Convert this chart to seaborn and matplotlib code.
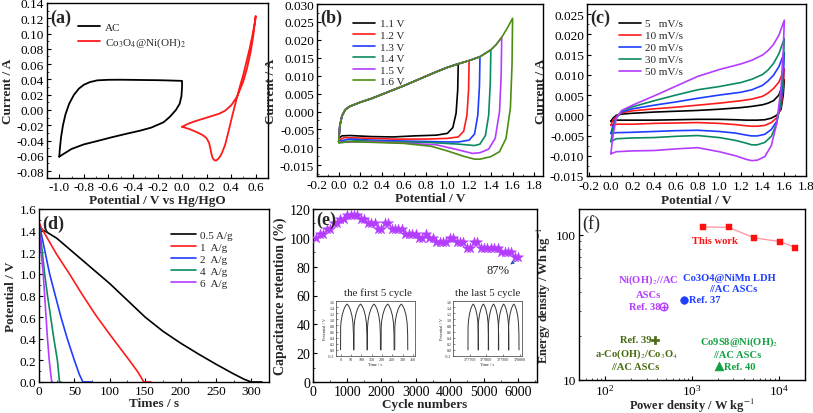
import numpy as np
import pandas as pd
import matplotlib
matplotlib.use("Agg")
import matplotlib.pyplot as plt
import seaborn as sns
from matplotlib.ticker import MultipleLocator, AutoMinorLocator, FormatStrFormatter, LogLocator, NullFormatter

# ---------------- data ----------------
# (a) three-electrode CVs
ac_v = [-1.0, -0.995, -0.985, -0.97, -0.95, -0.92, -0.88, -0.84, -0.8, -0.75, -0.69, -0.6, -0.5, -0.4, -0.3, -0.2, -0.1, -0.02, 0.0,
        0.0, -0.005, -0.02, -0.05, -0.1, -0.15, -0.25, -0.34, -0.45, -0.58, -0.7, -0.8, -0.9, -1.0]
ac_i = [-0.061, -0.05, -0.035, -0.02, -0.006, 0.008, 0.02, 0.028, 0.033, 0.0365, 0.0388, 0.0395, 0.0396, 0.0394, 0.0392, 0.039, 0.0386, 0.0382, 0.038,
        0.03, 0.018, 0.008, 0.0, -0.009, -0.016, -0.023, -0.027, -0.031, -0.036, -0.041, -0.045, -0.051, -0.061]
co_v = [0.0, 0.05, 0.1, 0.2, 0.3, 0.35, 0.4, 0.45, 0.5, 0.53, 0.56, 0.58, 0.6,
        0.59, 0.57, 0.55, 0.52, 0.5, 0.47, 0.44, 0.41, 0.38, 0.35, 0.32, 0.3, 0.28, 0.265, 0.25, 0.24, 0.23, 0.22, 0.2, 0.17, 0.12, 0.06, 0.0]
co_i = [-0.022, -0.018, -0.015, -0.01, -0.005, -0.001, 0.006, 0.018, 0.038, 0.055, 0.077, 0.097, 0.123,
        0.112, 0.095, 0.08, 0.06, 0.047, 0.03, 0.012, -0.007, -0.027, -0.046, -0.058, -0.063, -0.066, -0.066, -0.063, -0.058, -0.05, -0.043, -0.037, -0.033, -0.029, -0.025, -0.022]

# (b) CVs at different voltage windows
b_labels = ["1.1 V", "1.2 V", "1.3 V", "1.4 V", "1.5 V", "1.6 V"]
b_up_v = [0.0, 0.01, 0.03, 0.06, 0.1, 0.15, 0.2, 0.3, 0.4, 0.5, 0.6, 0.7, 0.8, 0.9, 1.0, 1.1, 1.2, 1.3, 1.4, 1.45, 1.5, 1.55, 1.6]
b_up_i = [-0.0085, -0.004, -0.0012, 0.0005, 0.0014, 0.002, 0.0026, 0.0036, 0.0048, 0.006, 0.0072, 0.0085, 0.0098, 0.0111, 0.0123, 0.0133, 0.0142, 0.0153, 0.0172, 0.0187, 0.0207, 0.0232, 0.026]
b_dn_v = [
    [1.1, 1.095, 1.08, 1.05, 1.0, 0.9, 0.7, 0.5, 0.3, 0.1, 0.03, 0.0],
    [1.2, 1.195, 1.18, 1.15, 1.1, 1.0, 0.8, 0.5, 0.2, 0.05, 0.0],
    [1.3, 1.295, 1.28, 1.25, 1.2, 1.1, 1.0, 0.7, 0.4, 0.1, 0.0],
    [1.4, 1.395, 1.38, 1.35, 1.3, 1.25, 1.1, 0.8, 0.5, 0.2, 0.0],
    [1.5, 1.495, 1.48, 1.44, 1.38, 1.3, 1.23, 1.1, 0.9, 0.6, 0.3, 0.0],
    [1.6, 1.595, 1.58, 1.54, 1.48, 1.4, 1.3, 1.25, 1.15, 1.0, 0.85, 0.6, 0.3, 0.1, 0.0],
]
b_dn_i = [
    [0.0133, 0.006, -0.0005, -0.0045, -0.0061, -0.0066, -0.0068, -0.0071, -0.0070, -0.0067, -0.0068, -0.0075],
    [0.0142, 0.006, -0.001, -0.0055, -0.0071, -0.0075, -0.0077, -0.0077, -0.0074, -0.0073, -0.0080],
    [0.0153, 0.007, -0.001, -0.0063, -0.0080, -0.0085, -0.0085, -0.0083, -0.0081, -0.0077, -0.0083],
    [0.0172, 0.008, -0.001, -0.0067, -0.0091, -0.0095, -0.0091, -0.0086, -0.0085, -0.0081, -0.0085],
    [0.0207, 0.010, 0.0, -0.0075, -0.0105, -0.0115, -0.0117, -0.0107, -0.0093, -0.0088, -0.0084, -0.0086],
    [0.026, 0.013, 0.001, -0.0075, -0.0112, -0.0126, -0.0133, -0.0133, -0.0125, -0.011, -0.0097, -0.0089, -0.0086, -0.0084, -0.0088],
]
b_colors = ["#000000", "#ff1a1a", "#1f3dff", "#0a8a62", "#b43cff", "#4d8c12"]

# (c) CVs at different scan rates
c_labels = ["5   mV/s", "10 mV/s", "20 mV/s", "30 mV/s", "50 mV/s"]
c_up_v = [0.0, 0.02, 0.05, 0.1, 0.2, 0.4, 0.6, 0.8, 1.0, 1.2, 1.3, 1.4, 1.45, 1.5, 1.55, 1.6]
c_up_i = [
    [-0.0015, -0.0007, 0.0, 0.0003, 0.0005, 0.0008, 0.001, 0.0012, 0.0015, 0.0019, 0.0022, 0.0026, 0.003, 0.0036, 0.005, 0.0088],
    [-0.0025, -0.0012, -0.0003, 0.0006, 0.0011, 0.0016, 0.002, 0.0025, 0.003, 0.0036, 0.004, 0.0047, 0.0055, 0.0066, 0.0082, 0.0115],
    [-0.0045, -0.0025, -0.0005, 0.0008, 0.0016, 0.0025, 0.0033, 0.0042, 0.005, 0.0057, 0.0063, 0.0074, 0.0085, 0.0099, 0.012, 0.0155],
    [-0.0065, -0.0035, -0.0008, 0.0011, 0.0021, 0.0036, 0.005, 0.0063, 0.0071, 0.0081, 0.0089, 0.0101, 0.0112, 0.0128, 0.0152, 0.019],
    [-0.0095, -0.005, -0.0007, 0.0012, 0.0025, 0.0048, 0.0072, 0.0096, 0.0113, 0.0127, 0.0136, 0.0149, 0.016, 0.0175, 0.0198, 0.0235],
]
c_dn_v = [1.6, 1.59, 1.57, 1.53, 1.48, 1.42, 1.35, 1.3, 1.25, 1.15, 1.0, 0.8, 0.6, 0.4, 0.2, 0.05, 0.0]
c_dn_i = [
    [0.0088, 0.005, 0.0015, 0.0, -0.0007, -0.0011, -0.0012, -0.0012, -0.0012, -0.0011, -0.001, -0.001, -0.0011, -0.0012, -0.0012, -0.0012, -0.0015],
    [0.0115, 0.007, 0.002, -0.0006, -0.0018, -0.0025, -0.0027, -0.0027, -0.0026, -0.0023, -0.002, -0.0018, -0.0019, -0.002, -0.0022, -0.0022, -0.0025],
    [0.0155, 0.009, 0.003, -0.0015, -0.0035, -0.0047, -0.0051, -0.0051, -0.0049, -0.0044, -0.004, -0.0037, -0.0038, -0.004, -0.0042, -0.0043, -0.0045],
    [0.019, 0.012, 0.004, -0.002, -0.0052, -0.0067, -0.0073, -0.0073, -0.0069, -0.0062, -0.0055, -0.005, -0.0052, -0.0055, -0.0056, -0.0058, -0.0065],
    [0.0235, 0.016, 0.007, -0.002, -0.0075, -0.0102, -0.0111, -0.0112, -0.0109, -0.01, -0.009, -0.008, -0.0083, -0.0087, -0.0088, -0.009, -0.0095],
]
c_colors = ["#000000", "#ff1a1a", "#1f3dff", "#0a8a62", "#b43cff"]

# (d) discharge curves
d_labels = ["0.5 A/g", "1  A/g", "2  A/g", "4  A/g", "6  A/g"]
d_t = [
    [0, 10, 25, 50, 75, 100, 125, 150, 175, 200, 225, 250, 275, 290, 300, 315],
    [0, 3, 10, 25, 43, 60, 80, 100, 115, 130, 140, 148, 158],
    [0, 3, 8, 15, 23, 31, 40, 50, 57, 62, 75],
    [0, 3, 8, 12, 16.5, 21, 26, 29, 31],
    [0, 3, 6, 9, 12, 14.5, 17, 18, 19],
]
d_v = [
    [1.42, 1.39, 1.33, 1.19, 1.05, 0.91, 0.755, 0.6, 0.47, 0.36, 0.26, 0.165, 0.075, 0.025, 0.0, 0.0],
    [1.48, 1.43, 1.35, 1.18, 1.0, 0.82, 0.62, 0.44, 0.31, 0.18, 0.09, 0.0, 0.0],
    [1.45, 1.38, 1.22, 1.0, 0.8, 0.6, 0.4, 0.2, 0.07, 0.0, 0.0],
    [1.45, 1.3, 1.0, 0.8, 0.6, 0.4, 0.2, 0.0, 0.0],
    [1.43, 1.2, 1.0, 0.7, 0.4, 0.2, 0.05, 0.0, 0.0],
]
d_colors = ["#000000", "#ff1a1a", "#1f3dff", "#0a8a62", "#b43cff"]

# (e) cycling stability
e_cycles = list(range(100, 6001, 100))
e_retention = [100, 103, 103, 106, 106, 110, 110, 113, 113, 116, 116, 116, 116, 113, 113, 110, 110, 110, 106, 106,
               110, 110, 106, 106, 106, 106, 103, 103, 103, 103, 100, 100, 103, 100, 100, 97, 97, 97, 97, 100,
               100, 97, 97, 97, 93, 93, 97, 97, 93, 93, 93, 93, 93, 93, 90, 90, 90, 90, 87, 87]
# inset charge/discharge profile (one cycle, relative time) and cycle start times
cyc_t = [0, 0.5, 3, 9, 17, 25, 32, 39, 47, 55, 60, 62.5, 63]
cyc_v = [0.0, 0.75, 0.95, 1.17, 1.34, 1.45, 1.5, 1.44, 1.32, 1.12, 0.88, 0.5, 0.0]
first_starts = [0, 65, 130, 196, 262]
last_starts = [377690, 377751, 377812, 377873, 377934]

# (f) Ragone plot
f_power = [1350, 2650, 5200, 10400, 15400]
f_energy = [113, 112, 95, 89.5, 81.5]
ref37 = (810, 35.6)
ref38 = (477, 31.8)
ref39 = (376, 18.9)
ref40 = (2040, 12.5)

# ---------------- style ----------------
sns.set_theme(style="ticks")
plt.rcParams["font.family"] = ["Liberation Serif", "DejaVu Serif"]
plt.rcParams["mathtext.fontset"] = "stix"
plt.rcParams["axes.unicode_minus"] = False

W, H = 813, 414
fig = plt.figure(figsize=(W / 100, H / 100), dpi=100)
fig.patch.set_facecolor("white")


def add_ax(l, t, r, b):
    return fig.add_axes([l / W, 1 - b / H, (r - l) / W, (b - t) / H])


def style(ax, tsize=9.5):
    for s in ax.spines.values():
        s.set_linewidth(1.0)
        s.set_color("black")
    ax.tick_params(which="major", direction="in", length=3, width=0.8, labelsize=tsize, pad=2, colors="black")
    ax.tick_params(which="minor", direction="in", length=1.6, width=0.6)
    ax.set_facecolor("white")
    ax.grid(False)


LBL = dict(fontsize=9.5, fontweight="bold")


def leg(ax, x, y, fs=8, spacing=0.25, hl=2.0):
    h, l = ax.get_legend_handles_labels()
    ax.legend(h, l, loc="upper left", bbox_to_anchor=(x, y), frameon=False, fontsize=fs,
              handlelength=hl, handletextpad=0.4, labelspacing=spacing, borderaxespad=0, borderpad=0)


# ---------------- (a) ----------------
ax = add_ax(47, 4, 268, 179)
sns.lineplot(x=ac_v, y=ac_i, sort=False, estimator=None, color="black", lw=1.3, ax=ax, label="AC")
sns.lineplot(x=co_v, y=co_i, sort=False, estimator=None, color="#ff1a1a", lw=1.3, ax=ax,
             label="Co$_3$O$_4$@Ni(OH)$_2$")
ax.set_xlim(-1.1, 0.7)
ax.set_ylim(-0.089, 0.14)
ax.xaxis.set_major_locator(MultipleLocator(0.2))
ax.yaxis.set_major_locator(MultipleLocator(0.02))
ax.xaxis.set_minor_locator(AutoMinorLocator(2))
ax.yaxis.set_minor_locator(AutoMinorLocator(2))
ax.xaxis.set_major_formatter(FormatStrFormatter("%.1f"))
ax.yaxis.set_major_formatter(FormatStrFormatter("%.2f"))
ax.set_xlabel("Potential / V vs Hg/HgO", labelpad=1, **LBL)
ax.set_ylabel("Current / A", labelpad=2, **LBL)
style(ax)
leg(ax, 0.14, 0.89, fs=8, spacing=0.35)
ax.text(0.015, 0.97, "(a)", transform=ax.transAxes, fontsize=13, fontweight="bold", va="top", ha="left")

# ---------------- (b) ----------------
ax = add_ax(317, 5, 543, 177)
for k in range(6):
    vmax = b_dn_v[k][0]
    up_v = [v for v in b_up_v if v < vmax - 1e-9] + b_dn_v[k]
    up_i = [i for v, i in zip(b_up_v, b_up_i) if v < vmax - 1e-9] + b_dn_i[k]
    sns.lineplot(x=up_v, y=up_i, sort=False, estimator=None, color=b_colors[k], lw=1.2, ax=ax, label=b_labels[k])
ax.set_xlim(-0.2, 1.88)
ax.set_ylim(-0.018, 0.030)
ax.xaxis.set_major_locator(MultipleLocator(0.2))
ax.yaxis.set_major_locator(MultipleLocator(0.005))
ax.xaxis.set_minor_locator(AutoMinorLocator(2))
ax.yaxis.set_minor_locator(AutoMinorLocator(2))
ax.xaxis.set_major_formatter(FormatStrFormatter("%.1f"))
ax.yaxis.set_major_formatter(FormatStrFormatter("%.3f"))
ax.set_xlabel("Potential / V", labelpad=1, **LBL)
ax.set_ylabel("Current / A", labelpad=2, **LBL)
style(ax)
leg(ax, 0.16, 0.915, fs=8, spacing=0.16, hl=2.0)
ax.text(0.015, 0.97, "(b)", transform=ax.transAxes, fontsize=13, fontweight="bold", va="top", ha="left")

# ---------------- (c) ----------------
ax = add_ax(587, 5, 806, 177)
for k in range(5):
    xs = c_up_v + c_dn_v
    ys = c_up_i[k] + c_dn_i[k]
    sns.lineplot(x=xs, y=ys, sort=False, estimator=None, color=c_colors[k], lw=1.2, ax=ax, label=c_labels[k])
ax.set_xlim(-0.22, 1.8)
ax.set_ylim(-0.015, 0.0275)
ax.xaxis.set_major_locator(MultipleLocator(0.2))
ax.yaxis.set_major_locator(MultipleLocator(0.005))
ax.xaxis.set_minor_locator(AutoMinorLocator(2))
ax.yaxis.set_minor_locator(AutoMinorLocator(2))
ax.xaxis.set_major_formatter(FormatStrFormatter("%.1f"))
ax.yaxis.set_major_formatter(FormatStrFormatter("%.3f"))
ax.set_xlabel("Potential / V", labelpad=1, **LBL)
ax.set_ylabel("Current / A", labelpad=2, **LBL)
style(ax)
ax.tick_params(axis="x", pad=3)
leg(ax, 0.145, 0.915, fs=8, spacing=0.2, hl=2.0)
ax.text(0.015, 0.97, "(c)", transform=ax.transAxes, fontsize=13, fontweight="bold", va="top", ha="left")

# ---------------- (d) ----------------
ax = add_ax(39, 210, 269, 383)
for k in range(5):
    sns.lineplot(x=d_t[k], y=d_v[k], sort=False, estimator=None, color=d_colors[k], lw=1.2, ax=ax, label=d_labels[k])
ax.set_xlim(0, 325)
ax.set_ylim(0, 1.6)
ax.xaxis.set_major_locator(MultipleLocator(50))
ax.yaxis.set_major_locator(MultipleLocator(0.2))
ax.xaxis.set_minor_locator(AutoMinorLocator(2))
ax.yaxis.set_minor_locator(AutoMinorLocator(2))
ax.yaxis.set_major_formatter(FormatStrFormatter("%.1f"))
ax.set_xlabel("Times / s", labelpad=0, **LBL)
ax.set_ylabel("Potential / V", labelpad=2, **LBL)
style(ax)
leg(ax, 0.575, 0.88, fs=8, spacing=0.2, hl=2.2)
ax.text(0.015, 0.97, "(d)", transform=ax.transAxes, fontsize=13, fontweight="bold", va="top", ha="left")

# ---------------- (e) ----------------
ax = add_ax(313, 210, 537, 383)
sns.scatterplot(x=e_cycles, y=e_retention, marker="*", s=60, color="#b43cff", edgecolor="#b43cff", linewidth=0.3, ax=ax, zorder=3)
ax.set_xlim(0, 6550)
ax.set_ylim(0, 120)
ax.xaxis.set_major_locator(MultipleLocator(1000))
ax.yaxis.set_major_locator(MultipleLocator(20))
ax.xaxis.set_minor_locator(AutoMinorLocator(2))
ax.yaxis.set_minor_locator(AutoMinorLocator(2))
ax.set_xlabel("Cycle numbers", labelpad=0, **LBL)
ax.set_ylabel("Capacitance retention (%)", labelpad=2, fontsize=10, fontweight="bold")
style(ax, tsize=10)
ax.text(5400, 78, "87%", ha="center", va="center", fontsize=9)
ax.annotate("", xy=(5700, 80.5), xytext=(5980, 85),
            arrowprops=dict(arrowstyle="-|>", color="#3050c0", lw=0.6, mutation_scale=5))
ax.text(0.015, 0.99, "(e)", transform=ax.transAxes, fontsize=13, fontweight="bold", va="top", ha="left")
fig.text(378 / W, 1 - 293 / H, "the first 5 cycle", fontsize=7.8, ha="center", va="center")
fig.text(488 / W, 1 - 293 / H, "the last 5 cycle", fontsize=7.8, ha="center", va="center")


def inset(l, t, r, b, starts, xlim, xticks):
    ia = add_ax(l, t, r, b)
    for s0 in starts:
        sns.lineplot(x=[s0 + tt for tt in cyc_t], y=cyc_v, sort=False, estimator=None, color="#333333", lw=0.7, ax=ia)
    ia.set_xlim(*xlim)
    ia.set_ylim(-0.2, 1.6)
    ia.set_xticks(xticks)
    ia.yaxis.set_major_locator(MultipleLocator(0.2))
    ia.yaxis.set_major_formatter(FormatStrFormatter("%.1f"))
    for s in ia.spines.values():
        s.set_linewidth(0.6)
        s.set_color("#555555")
    ia.tick_params(direction="in", length=1.2, width=0.4, labelsize=3, pad=1)
    ia.set_xlabel("Time / s", fontsize=3.2, labelpad=0.5)
    ia.set_ylabel("Potential / V", fontsize=3.2, labelpad=0.5)
    ia.set_facecolor("white")
    return ia


inset(336, 302, 415, 357, first_starts, (-22, 360), list(range(0, 351, 50)))
inset(453, 302, 522, 357, last_starts, (377600, 378015), [377700, 377800, 377900, 378000])

# ---------------- (f) ----------------
ax = add_ax(579, 210, 805, 381)
ax.set_xscale("log")
ax.set_yscale("log")
sns.lineplot(x=f_power, y=f_energy, sort=False, estimator=None, color="#ff9aa6", lw=1.0, ax=ax)
sns.scatterplot(x=f_power, y=f_energy, marker="s", s=16, color="#ff1010", edgecolor="#ff1010", ax=ax, zorder=3)
sns.scatterplot(x=[ref37[0]], y=[ref37[1]], marker="o", s=30, color="#1f3dff", edgecolor="#1f3dff", ax=ax, zorder=3)
sns.scatterplot(x=[ref38[0]], y=[ref38[1]], marker="o", s=30, facecolor="none", edgecolor="#b43cff", linewidth=1.0, ax=ax, zorder=3)
sns.scatterplot(x=[ref38[0]], y=[ref38[1]], marker="+", s=22, color="#b43cff", linewidth=1.0, ax=ax, zorder=3)
sns.scatterplot(x=[ref39[0]], y=[ref39[1]], marker="P", s=40, color="#4a6b12", edgecolor="#4a6b12", ax=ax, zorder=3)
sns.scatterplot(x=[ref40[0]], y=[ref40[1]], marker="^", s=40, color="#12a040", edgecolor="#12a040", ax=ax, zorder=3)
ax.set_xlim(50, 20000)
ax.set_ylim(10, 150)
ax.set_yticks([10, 100])
ax.set_yticklabels(["10", "100"])
ax.yaxis.set_minor_locator(LogLocator(base=10, subs=np.arange(2, 10)))
ax.yaxis.set_minor_formatter(NullFormatter())
ax.xaxis.set_minor_locator(LogLocator(base=10, subs=np.arange(2, 10)))
ax.xaxis.set_minor_formatter(NullFormatter())
ax.set_xlabel("Power density / W kg$^{-1}$", labelpad=-1, fontsize=9, fontweight="bold")
ax.set_ylabel("Energy density / Wh kg$^{-1}$", labelpad=2, fontsize=9, fontweight="bold")
style(ax)
ax.text(0.015, 0.97, "(f)", transform=ax.transAxes, fontsize=13, va="top", ha="left")
FS = 7.6
FT = dict(fontsize=FS, fontweight="bold", ha="center", va="center")
ax.text(1840, 91, "This work", color="#ff1010", **FT)
ax.text(2700, 50.5, "Co3O4@NiMn LDH", color="#1f3dff", **FT)
ax.text(3000, 42.5, "//AC ASCs", color="#1f3dff", **FT)
ax.text(930, 35.6, "Ref. 37", color="#1f3dff", fontsize=FS, fontweight="bold", ha="left", va="center")
ax.text(312, 49, "Ni(OH)$_2$//AC", color="#b43cff", **FT)
ax.text(312, 38.6, "ASCs", color="#b43cff", **FT)
ax.text(430, 31.8, "Ref. 38", color="#b43cff", fontsize=FS, fontweight="bold", ha="right", va="center")
ax.text(340, 18.9, "Ref. 39", color="#4a6b12", fontsize=FS, fontweight="bold", ha="right", va="center")
ax.text(233, 15.3, "a-Co(OH)$_2$/Co$_3$O$_4$", color="#4a6b12", **FT)
ax.text(221, 12.3, "//AC ASCs", color="#4a6b12", **FT)
ax.text(3470, 18.5, "Co9S8@Ni(OH)$_2$", color="#12a040", **FT)
ax.text(3290, 15.0, "//AC ASCs", color="#12a040", **FT)
ax.text(2350, 12.4, "Ref. 40", color="#12a040", fontsize=FS, fontweight="bold", ha="left", va="center")

for a in fig.axes:
    lg = a.get_legend()
    if lg is not None and not lg.get_texts():
        lg.remove()

fig.savefig("out.png", dpi=100, facecolor="white")
